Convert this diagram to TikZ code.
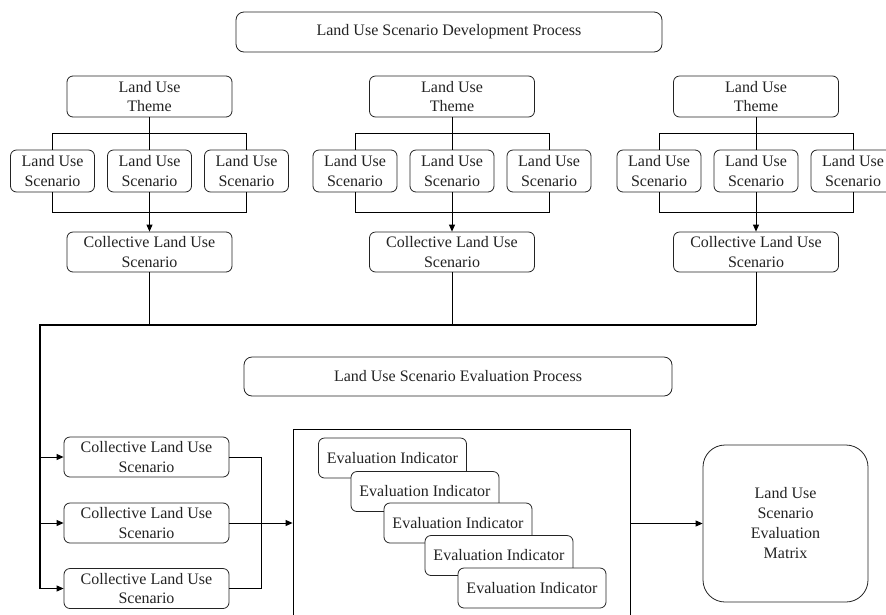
\documentclass[tikz,border=0pt]{standalone}
\usepackage{fontspec}
\setmainfont{Liberation Serif}
\newfontfamily\tnr{Liberation Serif}
\usetikzlibrary{arrows.meta}
\definecolor{ink}{RGB}{35,35,35}
\tikzset{
  box/.style={draw=ink, line width=0.8pt, rounded corners=6pt, fill=white, align=center,
    text=ink, inner sep=0pt, font=\tnr\fontsize{16}{19.5}\selectfont},
  titlebox/.style={box, minimum width=426pt, minimum height=40pt, rounded corners=8pt},
  themebox/.style={box, minimum width=165pt, minimum height=41pt},
  scenbox/.style={box, minimum width=84pt, minimum height=42pt},
  collbox/.style={box, minimum width=165pt, minimum height=40pt},
  evalbox/.style={box, minimum width=148pt, minimum height=40pt},
  link/.style={draw=black, line width=0.9pt},
  arr/.style={link, -{Triangle[length=7pt,width=6pt]}},
  thickline/.style={draw=black, line width=1.8pt},
}
\begin{document}
\begin{tikzpicture}[x=1pt,y=-1pt]
\useasboundingbox (0,0) rectangle (886,614);

\node[titlebox] (title1) at (449,32) {Land Use Scenario Development Process};

% group 1
\node[themebox] (t1) at (149.5,96.5) {Land Use\\Theme};
\node[scenbox] (s11) at (52.5,171) {Land Use\\Scenario};
\node[scenbox] (s12) at (149.5,171) {Land Use\\Scenario};
\node[scenbox] (s13) at (246.5,171) {Land Use\\Scenario};
\node[collbox] (c1) at (149.5,252) {Collective Land Use\\Scenario};
% group 2
\node[themebox] (t2) at (452,96.5) {Land Use\\Theme};
\node[scenbox] (s21) at (355,171) {Land Use\\Scenario};
\node[scenbox] (s22) at (452,171) {Land Use\\Scenario};
\node[scenbox] (s23) at (549,171) {Land Use\\Scenario};
\node[collbox] (c2) at (452,252) {Collective Land Use\\Scenario};
% group 3
\node[themebox] (t3) at (756,96.5) {Land Use\\Theme};
\node[scenbox] (s31) at (659,171) {Land Use\\Scenario};
\node[scenbox] (s32) at (756,171) {Land Use\\Scenario};
\node[scenbox] (s33) at (853,171) {Land Use\\Scenario};
\node[collbox] (c3) at (756,252) {Collective Land Use\\Scenario};

\foreach \g in {1,2,3}{
  \draw[link] (t\g.south) -- (s\g2.north);
  \draw[link] (s\g1.north) -- ++(0,-16) -| (s\g3.north);
  \draw[link] (s\g1.south) -- ++(0,20) -| (s\g3.south);
  \draw[arr] (s\g2.south) -- (c\g.north);
}

\coordinate (j1) at (149.5,325);
\coordinate (j2) at (452,325);
\coordinate (j3) at (756,325);
\coordinate (jL) at (40,325);
\draw[link] (c1.south) -- (j1);
\draw[link] (c2.south) -- (j2);
\draw[link] (c3.south) -- (j3);

\node[titlebox, minimum width=428pt, minimum height=39pt] (title2) at (458,376.5) {Land Use Scenario Evaluation Process};

\node[collbox] (L1) at (146.5,457) {Collective Land Use\\Scenario};
\node[collbox] (L2) at (146.5,523) {Collective Land Use\\Scenario};
\node[collbox] (L3) at (146.5,588.5) {Collective Land Use\\Scenario};

\coordinate (jB) at (40,588.5);
\draw[thickline] (j3) -- (jL) -- (jB);
\draw[arr] (jL |- L1.west) -- (L1.west);
\draw[arr] (jL |- L2.west) -- (L2.west);
\draw[arr] (jB) -- (L3.west);

\node[draw=black, line width=0.8pt, inner sep=0pt, minimum width=337pt, minimum height=211pt] (big) at (461.5,534.5) {};

\coordinate (mx) at (261,523);
\draw[link] (L1.east) -| (mx);
\draw[link] (L3.east) -| (mx);
\draw[arr] (L2.east) -- (L2.east -| big.west);

\node[evalbox] (e1) at (392.5,458) {Evaluation Indicator};
\node[evalbox] (e2) at (425,491.5) {Evaluation Indicator};
\node[evalbox] (e3) at (458,523) {Evaluation Indicator};
\node[evalbox] (e4) at (499,555.5) {Evaluation Indicator};
\node[evalbox] (e5) at (532,588) {Evaluation Indicator};

\node[box, minimum width=165pt, minimum height=157pt, rounded corners=22pt,
  font=\tnr\fontsize{16}{20}\selectfont] (mat) at (785.5,523.5) {Land Use\\Scenario\\Evaluation\\Matrix};
\draw[arr] (big.east |- mat.west) -- (mat.west);
\end{tikzpicture}
\end{document}
